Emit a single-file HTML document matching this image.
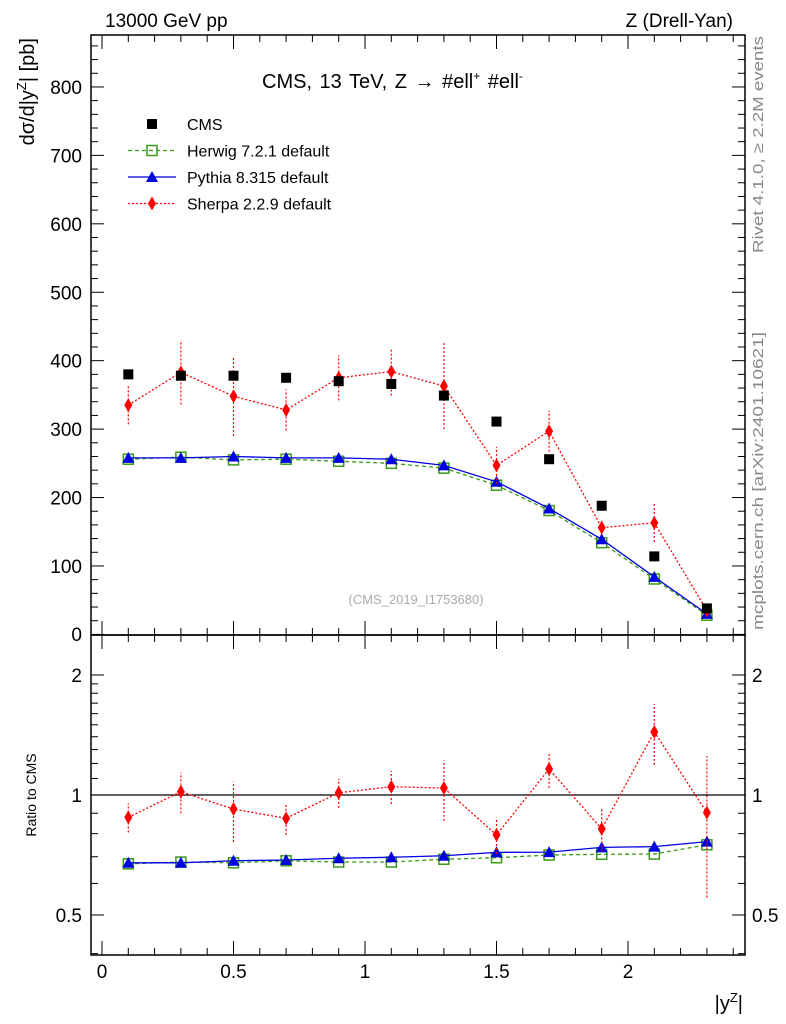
<!DOCTYPE html>
<html><head><meta charset="utf-8"><style>
body{margin:0;background:#fff;}
svg{display:block;font-family:"Liberation Sans",sans-serif;}
</style></head><body>
<svg id="c" width="786" height="1024" viewBox="0 0 786 1024" xmlns="http://www.w3.org/2000/svg"></svg>
<script>
const xVals=[0.1,0.3,0.5,0.7,0.9,1.1,1.3,1.5,1.7,1.9,2.1,2.3];
const cms=[380,378,378,375,370,366,349,311,256,188,114,38];
const herwig=[256,259,255,256,253,250,243,218,181,134,81,28];
const pythia=[258,258,260,258,258,256,247,223,184,139,84,30];
const sherpa=[335,383,348,328,375,384,363,247,297,156,163,35];
const sherpaErr=[28,47,58,30,33,35,63,27,30,10,28,4];
const herwigRatio=[0.672,0.679,0.676,0.684,0.679,0.679,0.690,0.696,0.707,0.710,0.711,0.750];
const pythiaRatio=[0.676,0.676,0.684,0.687,0.694,0.698,0.704,0.718,0.719,0.739,0.742,0.764];
const sherpaRatio=[0.879,1.019,0.922,0.874,1.013,1.049,1.041,0.794,1.162,0.822,1.44,0.903];
const sherpaRatioErr=[0.074,0.12,0.16,0.08,0.085,0.1,0.18,0.083,0.12,0.1,0.25,0.35];
const xTicks=[0,0.5,1,1.5,2];
const yTicks=[100,200,300,400,500,600,700,800];
const rTicks=[0.5,1,2];

const NS="http://www.w3.org/2000/svg",svg=document.getElementById('c');
function el(t,a,p){const e=document.createElementNS(NS,t);for(const k in a)e.setAttribute(k,a[k]);(p||svg).appendChild(e);return e;}
const L=91,R=745,T=35,M=635,B=955;
const X=v=>102+v*263;
const Y=v=>634.4-v*0.6843;
const YR=v=>795-Math.log2(v)*120;

let f=el('rect',{x:L,y:T,width:R-L,height:M-T,fill:'none',stroke:'#000','stroke-width':1.5});

f=el('rect',{x:L,y:M,width:R-L,height:B-M,fill:'none',stroke:'#000','stroke-width':1.5});


function line(x1,y1,x2,y2,s,w,d,p){return el('line',{x1,y1,x2,y2,stroke:s||'#000','stroke-width':w||1,'stroke-dasharray':d||'none'},p);}
for(let v=0;v<=2.41;v+=0.1){const x=X(v);const maj=Math.abs(v*2-Math.round(v*2))<1e-6;const l=maj?14:7;
 line(x,M,x,M-l);line(x,T,x,T+l);line(x,B,x,B-l);line(x,M,x,M+l);}
xTicks.forEach(v=>{const t=el('text',{x:X(v),y:978,'text-anchor':'middle','font-size':19});t.textContent=String(v);
 });
for(let v=0;v<=870;v+=20){const y=Y(v);const maj=v%100==0;const l=maj?13:7;line(L,y,L+l,y);line(R,y,R-l,y);}
yTicks.forEach(v=>{const t=el('text',{x:82,y:Y(v)+7,'text-anchor':'end','font-size':19});t.textContent=v;
 });
let t0=el('text',{x:82,y:641,'text-anchor':'end','font-size':19});t0.textContent='0';

[0.4,0.5,0.6,0.7,0.8,0.9,1,1.1,1.2,1.3,1.4,1.5,1.6,1.7,1.8,1.9,2].forEach(v=>{const y=YR(v);const maj=rTicks.includes(v);const l=maj?13:7;line(L,y,L+l,y);line(R,y,R-l,y);});
rTicks.forEach(v=>{let t=el('text',{x:82,y:YR(v)+7,'text-anchor':'end','font-size':19});t.textContent=v;
 
 t=el('text',{x:752,y:YR(v)+7,'font-size':19});t.textContent=v;
 });
let rl=line(L,YR(1),R,YR(1),'#000',1.3);

function series(vals,yf,color,dash,marker,name,errs,logErr){
 const g=el('g',{});
 if(errs)vals.forEach((v,i)=>{const e=errs[i];line(X(xVals[i]),yf(v-e),X(xVals[i]),yf(v+e),color,1.2,'2,2',g);});
 el('polyline',{points:vals.map((v,i)=>X(xVals[i])+','+yf(v)).join(' '),fill:'none',stroke:color,'stroke-width':1.3,'stroke-dasharray':dash},g);
 vals.forEach((v,i)=>drawMarker(marker,X(xVals[i]),yf(v),color,g));
}
function drawMarker(m,x,y,c,g){
 if(m=='sq')el('rect',{x:x-5,y:y-5,width:10,height:10,fill:'#000'},g);
 else if(m=='osq')el('rect',{x:x-5,y:y-5,width:10,height:10,fill:'none',stroke:c,'stroke-width':1.5},g);
 else if(m=='tri')el('polygon',{points:`${x},${y-6} ${x-6},${y+5} ${x+6},${y+5}`,fill:c},g);
 else el('polygon',{points:`${x},${y-7} ${x-4},${y} ${x},${y+7} ${x+4},${y}`,fill:c},g);
}
series(herwig,Y,'#3a9a1a','4,3','osq','herwig-series');
series(pythia,Y,'#0000e0','none','tri','pythia-series');
series(sherpa,Y,'#f00','2,2','dia','sherpa-series',sherpaErr);
const cg=el('g',{});
cms.forEach((v,i)=>drawMarker('sq',X(xVals[i]),Y(v),'#000',cg));
series(herwigRatio,YR,'#3a9a1a','4,3','osq','herwig-ratio');
series(pythiaRatio,YR,'#0000e0','none','tri','pythia-ratio');
series(sherpaRatio,YR,'#f00','2,2','dia','sherpa-ratio',sherpaRatioErr);

const leg=[['CMS','sq','#000','none'],['Herwig 7.2.1 default','osq','#3a9a1a','4,3'],['Pythia 8.315 default','tri','#0000e0','none'],['Sherpa 2.2.9 default','dia','#f00','2,2']];
leg.forEach((l,i)=>{const y=124+i*26.5;const g=el('g',{});
 if(i>0)line(128,y,176,y,l[2],1.3,l[3],g);drawMarker(l[1],152,y,l[2],g);
 const t=el('text',{x:187,y:y+6,'font-size':16},g);t.textContent=l[0];});

function txt(s,a,name){const t=el('text',a);t.innerHTML=s;return t;}
txt('CMS, 13 TeV, Z →  #ell<tspan dy="-8" font-size="12">+</tspan><tspan dy="8"> #ell</tspan><tspan dy="-8" font-size="12">-</tspan>',{x:262,y:88,'font-size':20,'word-spacing':2},'plot-title');
txt('13000 GeV pp',{x:105,y:27,'font-size':19},'beam-label');
txt('Z (Drell-Yan)',{x:733,y:27,'font-size':19,'text-anchor':'end'},'process-label');
txt('(CMS_2019_I1753680)',{x:416,y:604,'font-size':13,fill:'#aaa','text-anchor':'middle'},'analysis-id');
txt('dσ/d|y<tspan dy="-8" font-size="13">Z</tspan><tspan dy="8">| [pb]</tspan>',{x:0,y:0,'font-size':20,'text-anchor':'end',transform:'translate(34,38) rotate(-90)'},'y-axis-title');
txt('Ratio to CMS',{x:0,y:0,'font-size':14,'text-anchor':'middle',transform:'translate(36,795) rotate(-90)'},'ratio-axis-title');
txt('|y<tspan dy="-8" font-size="13">Z</tspan><tspan dy="8">|</tspan>',{x:743,y:1010,'font-size':20,'text-anchor':'end'},'x-axis-title');
txt('Rivet 4.1.0, ≥ 2.2M events',{x:0,y:0,'font-size':15,fill:'#888','text-anchor':'end',textLength:217,lengthAdjust:'spacingAndGlyphs',transform:'translate(763,36) rotate(-90)'},'rivet-label');
txt('mcplots.cern.ch [arXiv:2401.10621]',{x:0,y:0,'font-size':15,fill:'#888','text-anchor':'end',textLength:298,lengthAdjust:'spacingAndGlyphs',transform:'translate(763,332) rotate(-90)'},'mcplots-label');
</script>
</body></html>
